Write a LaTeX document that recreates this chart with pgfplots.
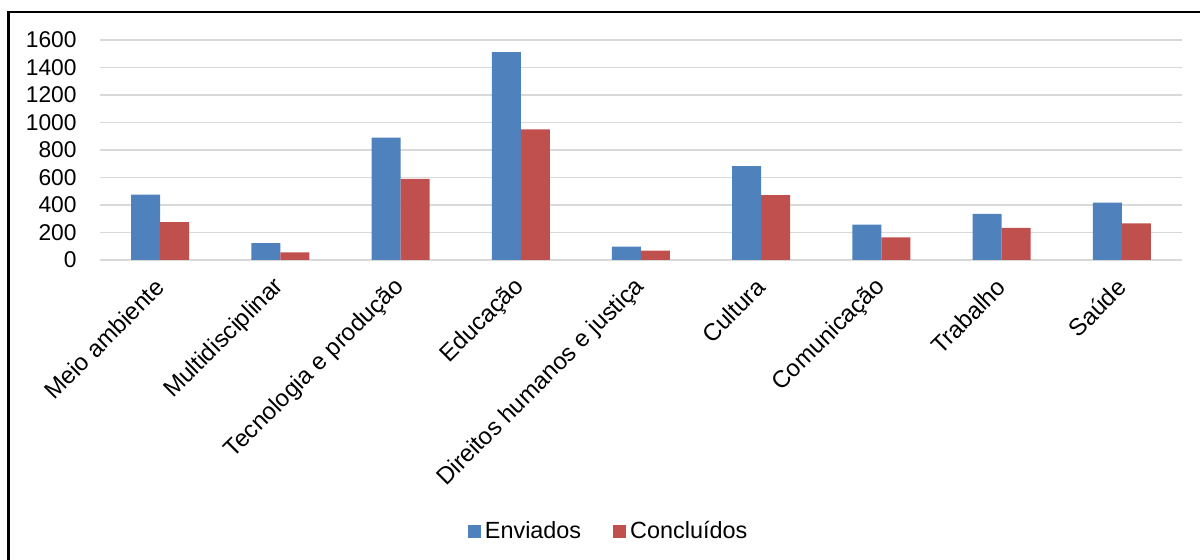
\documentclass[border=0pt]{standalone}
\usepackage{fontspec}
\setmainfont{Liberation Sans}
\usepackage{pgfplots}
\pgfplotsset{compat=1.18}
\definecolor{cblue}{HTML}{4F81BD}
\definecolor{cred}{HTML}{C0504D}
\definecolor{cgrid}{HTML}{D9D9D9}
\begin{document}
\begin{tikzpicture}
\useasboundingbox (0,0) rectangle (600pt,280pt);
\draw[line width=1.1pt] (4.2pt,-5pt) -- (4.2pt,274pt) -- (605pt,274pt);
\begin{axis}[
  at={(50pt,150pt)}, anchor=south west,
  scale only axis, width=541pt, height=110pt,
  xmin=-0.5, xmax=8.5, ymin=0, ymax=1600,
  ybar=0pt, bar width=14.5pt,
  axis line style={draw=none},
  major tick length=0pt,
  tick style={draw=none},
  ymajorgrids, grid style={cgrid, line width=0.8pt},
  ytick={0,200,...,1600},
  /pgf/number format/1000 sep={},
  /pgf/number format/assume math mode=true,
  yticklabel style={font=\fontsize{11.4}{13}\selectfont, inner sep=0pt, xshift=-11.5pt},
  xtick={0,...,8},
  xticklabels={Meio ambiente, Multidisciplinar, Tecnologia e produção, Educação, Direitos humanos e justiça, Cultura, Comunicação, Trabalho, Saúde},
  xticklabel style={font=\fontsize{12}{14}\selectfont, inner sep=0pt, anchor=east, xshift=0pt, yshift=-11.5pt, rotate=45},
  legend columns=2,
  legend style={draw=none, font=\fontsize{11.7}{13}\selectfont, at={(0.471,-1.232)}, anchor=center,
    /tikz/every even column/.append style={column sep=14pt}},
  legend image code/.code={\fill[#1,draw=none] (0pt,-3.25pt) rectangle (6.5pt,3.25pt);},
]
\addplot[fill=cblue, draw=none] coordinates {(0,475) (1,122) (2,890) (3,1512) (4,98) (5,682) (6,258) (7,336) (8,418)};
\addplot[fill=cred, draw=none] coordinates {(0,275) (1,56) (2,590) (3,950) (4,68) (5,472) (6,165) (7,234) (8,266)};
\legend{Enviados, Concluídos}
\end{axis}
\end{tikzpicture}
\end{document}
